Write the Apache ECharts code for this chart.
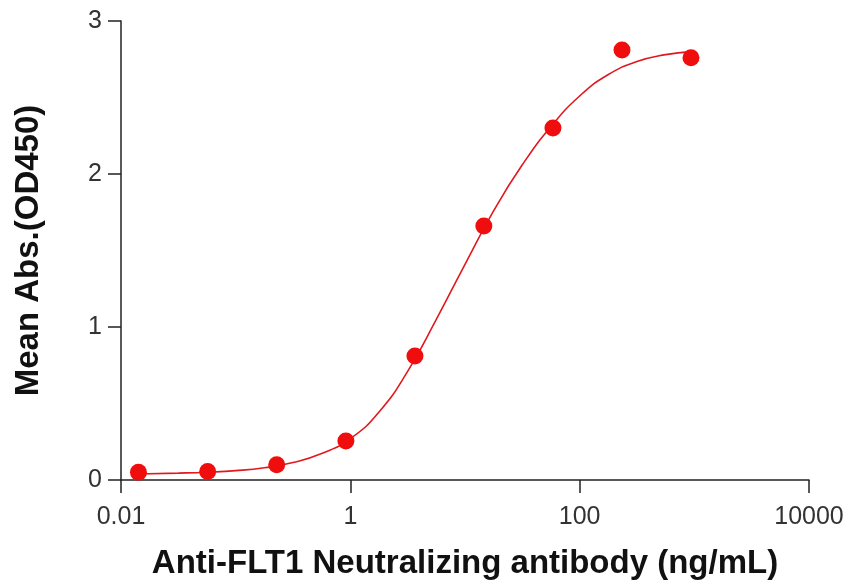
<!DOCTYPE html>
<html>
<head>
<meta charset="utf-8">
<script src="https://cdn.jsdelivr.net/npm/echarts@6/dist/echarts.min.js"></script>
<style>
html,body{margin:0;padding:0;background:#fff;}
#chart{width:852px;height:585px;}
</style>
</head>
<body>
<div id="chart"></div>
<script>
// Measured points (concentration ng/mL, mean OD450)
var concentrations = [0.0142, 0.057, 0.228, 0.915, 3.66, 14.6, 58.5, 234, 935];
var absorbance = [0.05, 0.055, 0.10, 0.255, 0.81, 1.66, 2.30, 2.81, 2.76];

// Fitted curve
var curveX = [0.0141, 0.0316, 0.0562, 0.1, 0.178, 0.316, 0.562, 1, 1.78, 3.16, 5.62, 10, 17.8, 31.6, 56.2, 100, 178, 316, 562, 933];
var curveY = [0.039, 0.045, 0.051, 0.061, 0.080, 0.114, 0.173, 0.27, 0.445, 0.71, 1.05, 1.41, 1.76, 2.06, 2.31, 2.51, 2.65, 2.735, 2.78, 2.80];

var xTicks = ['0.01', '1', '100', '10000'];
var yTicks = ['0', '1', '2', '3'];

var xTitle = 'Anti-FLT1 Neutralizing antibody (ng/mL)';
var yTitle = 'Mean Abs.(OD450)';

var scatterData = concentrations.map(function (c, i) { return [c, absorbance[i]]; });
var curveData = curveX.map(function (c, i) { return [c, curveY[i]]; });

var axisColor = '#222';
var chart = echarts.init(document.getElementById('chart'));
chart.setOption({
  animation: false,
  backgroundColor: '#fff',
  grid: { left: 121, right: 43, top: 21, bottom: 104, containLabel: false },
  xAxis: {
    type: 'log',
    logBase: 10,
    min: 0.01,
    max: 10000,
    interval: 2,
    name: xTitle,
    nameLocation: 'middle',
    nameGap: 67,
    nameTextStyle: { fontFamily: 'Liberation Sans, Arial', fontWeight: 'bold', fontSize: 33, color: '#111' },
    axisLine: { show: true, lineStyle: { color: axisColor, width: 1.5 } },
    axisTick: { show: true, inside: false, length: 13, lineStyle: { color: axisColor, width: 1.5 } },
    minorTick: { show: false },
    splitLine: { show: false },
    axisLabel: {
      margin: 25,
      fontFamily: 'Liberation Sans, Arial',
      fontSize: 25,
      color: '#333',
      formatter: function (v) {
        var e = Math.round(Math.log10(v));
        var idx = (e + 2) / 2;
        return xTicks[idx] !== undefined ? xTicks[idx] : '';
      }
    }
  },
  yAxis: {
    type: 'value',
    min: 0,
    max: 3,
    interval: 1,
    name: yTitle,
    nameLocation: 'middle',
    nameGap: 76,
    nameTextStyle: { fontFamily: 'Liberation Sans, Arial', fontWeight: 'bold', fontSize: 33, color: '#111' },
    axisLine: { show: true, lineStyle: { color: axisColor, width: 1.5 } },
    axisTick: { show: true, inside: false, length: 13, lineStyle: { color: axisColor, width: 1.5 } },
    splitLine: { show: false },
    axisLabel: {
      margin: 19,
      fontFamily: 'Liberation Sans, Arial',
      fontSize: 25,
      color: '#333',
      formatter: function (v) { return yTicks[Math.round(v)]; }
    }
  },
  series: [
    {
      type: 'line',
      data: curveData,
      smooth: 0.5,
      showSymbol: false,
      symbol: 'none',
      lineStyle: { color: '#e0191e', width: 1.6 },
      z: 2
    },
    {
      type: 'scatter',
      data: scatterData,
      symbol: 'circle',
      symbolSize: 17,
      itemStyle: { color: '#f00d0d', opacity: 1 },
      z: 3
    }
  ]
});
</script>
</body>
</html>
